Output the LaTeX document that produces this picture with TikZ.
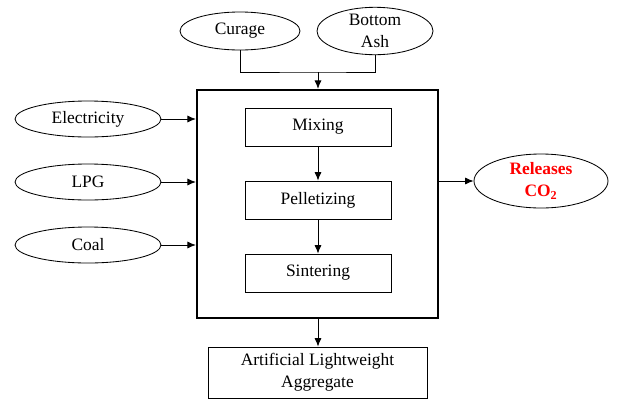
\documentclass[tikz,border=0pt]{standalone}
\usepackage{fontspec}
\setmainfont{Liberation Serif}
\usepackage{tikz}
\usetikzlibrary{shapes.geometric,arrows.meta}
\definecolor{myco2color}{HTML}{ff0000}

\tikzset{
  feed/.style={draw, ellipse, inner sep=0pt, line width=0.6pt, align=center, font=\fontsize{12.4pt}{15.6pt}\selectfont},
  stage/.style={draw, rectangle, line width=0.6pt, minimum width=3.65cm, minimum height=0.95cm, font=\fontsize{12.4pt}{15.6pt}\selectfont},
  flow/.style={-{Latex[length=6pt,width=5pt]}, line width=0.6pt}
}

\begin{document}
\begin{tikzpicture}%
\useasboundingbox (0,0) rectangle (15.675,-10.125);%
\node[feed, minimum width=3.0cm, minimum height=0.95cm] (curage) at (6.0, -0.775) {Curage};%
\node[feed, minimum width=2.9cm, minimum height=0.95cm] (ash) at (9.375, -0.775) {Bottom\\Ash};%
\node[draw, rectangle, line width=1.6pt, minimum width=6.025cm, minimum height=5.7cm] (process) at (7.9375, -5.1) {};%
\node[stage] (mixing) at (7.95, -3.175) {Mixing};%
\node[stage] (pellet) at (7.95, -5.0) {Pelletizing};%
\node[stage] (sinter) at (7.95, -6.825) {Sintering};%
\node[feed, minimum width=3.65cm, minimum height=0.9cm] (elec) at (2.2, -2.975) {Electricity};%
\node[feed, minimum width=3.65cm, minimum height=0.9cm] (lpg) at (2.2, -4.55) {LPG};%
\node[feed, minimum width=3.65cm, minimum height=0.9cm] (coal) at (2.2, -6.125) {Coal};%
\node[feed, minimum width=3.35cm, minimum height=1.35cm, text=myco2color, font=\fontsize{12.4pt}{15.6pt}\selectfont\bfseries] (co2) at (13.525, -4.525) {Releases\\CO\textsubscript{2}};%
\node[draw, rectangle, line width=0.6pt, minimum width=5.475cm, minimum height=1.275cm, align=center, font=\fontsize{12.4pt}{15.6pt}\selectfont] (ala) at (7.9375, -9.3125) {Artificial Lightweight\\Aggregate};%
\coordinate (join) at (7.95, -1.8);%
\draw[line width=0.6pt] (curage.south) |- (join) -| (ash.south);%
\draw[flow] (join) -- (join |- process.north);%
\draw[flow] (mixing) -- (pellet);%
\draw[flow] (pellet) -- (sinter);%
\draw[flow] (elec) -- (elec -| process.west);%
\draw[flow] (lpg) -- (lpg -| process.west);%
\draw[flow] (coal) -- (coal -| process.west);%
\draw[flow] (co2 -| process.east) -- (co2);%
\draw[flow] (process.south -| join) -- (ala.north -| join);%
\end{tikzpicture}
\end{document}
